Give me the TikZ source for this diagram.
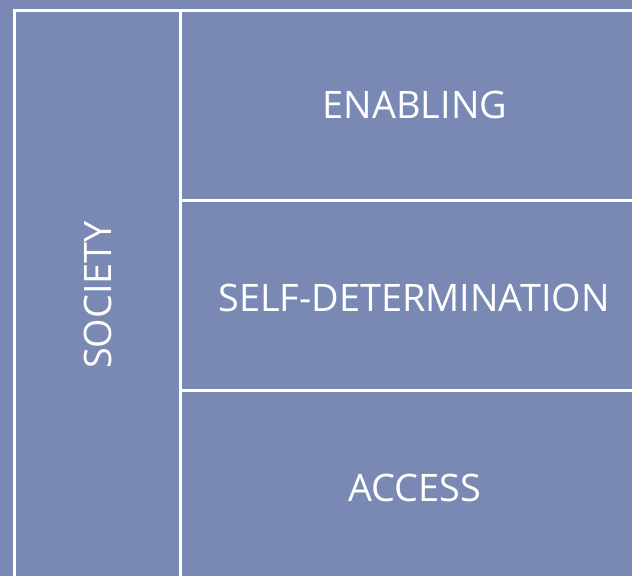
\documentclass[tikz,border=0pt]{standalone}
\usepackage{fontspec}
\setmainfont{Open Sans}
\usepackage{tikz}
\usetikzlibrary{positioning}
\definecolor{panelblue}{RGB}{121,137,180}

\begin{document}
\begin{tikzpicture}[x=1bp,y=-1bp,
	cellline/.style={draw=white, line width=3bp},
	celltext/.style={text=white, font=\fontsize{38}{44}\selectfont, inner sep=0pt}]
	% Background and frame
	\fill[panelblue] (0,0) rectangle (632,576);
	\useasboundingbox (0,0) rectangle (632,576);
	\begin{scope}
		\clip (0,0) rectangle (632,576);
		\draw[cellline] (14,11) rectangle (180,620);
		\draw[cellline] (180,11) rectangle (660,200);
		\draw[cellline] (180,200) rectangle (660,390);
		\draw[cellline] (180,390) rectangle (660,620);
	\end{scope}
	
	% Labels
	\node[celltext, rotate=90] (society) at (98,295) {SOCIETY};
	\node[celltext] (enabling) at (415,105) {ENABLING};
	\node[celltext] (selfdet) at (414,298) {SELF-DETERMINATION};
	\node[celltext] (access) at (415,488) {ACCESS};
\end{tikzpicture}
\end{document}
